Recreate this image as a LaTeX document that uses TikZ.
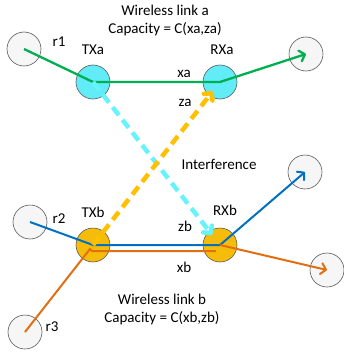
\documentclass[tikz,border=0pt]{standalone}
\usepackage{fontspec}
\setmainfont{Carlito}
\usepackage{tikz}
\usetikzlibrary{arrows.meta}
\definecolor{linkgreen}{RGB}{0,176,80}
\definecolor{linkblue}{RGB}{0,112,192}
\definecolor{linkorange}{RGB}{226,110,20}
\definecolor{txcyan}{RGB}{98,236,248}
\definecolor{txgold}{RGB}{246,188,10}
\definecolor{dashcyan}{RGB}{104,242,252}
\definecolor{dashgold}{RGB}{255,192,0}

\begin{document}
\begin{tikzpicture}[x=1pt, y=-1pt, font=\fontsize{15}{18}\selectfont]
\useasboundingbox (0,0) rectangle (344,356);
\tikzstyle{barb} = [-{Straight Barb[length=5pt, width=11pt, line cap=round, line join=round]}]
\tikzstyle{every node} = [circle, draw=gray!70!black, line width=0.6pt, fill=gray!7, minimum size=34pt, inner sep=0pt]
\node (r1) at (24,49) {};
\node (outa) at (306,54) {};
\node (r2) at (30,222) {};
\node (outb) at (305,172) {};
\node (r3) at (25,332) {};
\node (outc) at (327,270) {};
\node[fill=txcyan] (txa) at (93,82) {};
\node[fill=txcyan] (rxa) at (220,82) {};
\node[fill=txgold] (txb) at (93,245) {};
\node[fill=txgold] (rxb) at (220,245) {};
% link a
\draw[barb, linkgreen, line width=2.3pt] (r1.center) -- (txa.center) -- (rxa.center) -- (outa.center);
% link b
\draw[barb, linkblue, line width=2pt] (r2.center) -- (txb.center) -- (rxb.center) -- (outb.center);
\draw[linkorange, line width=2pt] (r3.center) -- ([xshift=-3pt, yshift=-4pt]txb.center)
	-- ([xshift=-1pt, yshift=-6pt]txb.center) -- ([xshift=-4pt, yshift=-6pt]rxb.center);
\draw[barb, linkorange, line width=2pt] (rxb.center) -- (outc.center);
% interference
\draw[barb, dashcyan, line width=4.5pt, dash pattern=on 10pt off 6pt, shorten >=13pt] (txa.center) -- (rxb.center);
\draw[barb, dashgold, line width=4.5pt, dash pattern=on 10pt off 6pt, shorten >=12pt] (txb.center) -- (rxa.center);
\tikzstyle{every node} = [inner sep=0pt, anchor=base]
\node (titlea) at (165,15) {Wireless link a};
\node (capa) at (165,33) {Capacity = C(xa,za)};
\node (lr1) at (59,46) {r1};
\node (ltxa) at (93,54) {TXa};
\node (lrxa) at (222,54) {RXa};
\node (lxa) at (184,77) {xa};
\node (lza) at (185,106) {za};
\node (interf) at (219,169) {Interference};
\node (lr2) at (59,223) {r2};
\node (ltxb) at (93,217) {TXb};
\node (lrxb) at (225,215) {RXb};
\node (lzb) at (185,231) {zb};
\node (lxb) at (184,272) {xb};
\node (titleb) at (162,304) {Wireless link b};
\node (capb) at (162,322) {Capacity = C(xb,zb)};
\node (lr3) at (52,331) {r3};
\end{tikzpicture}
\end{document}
